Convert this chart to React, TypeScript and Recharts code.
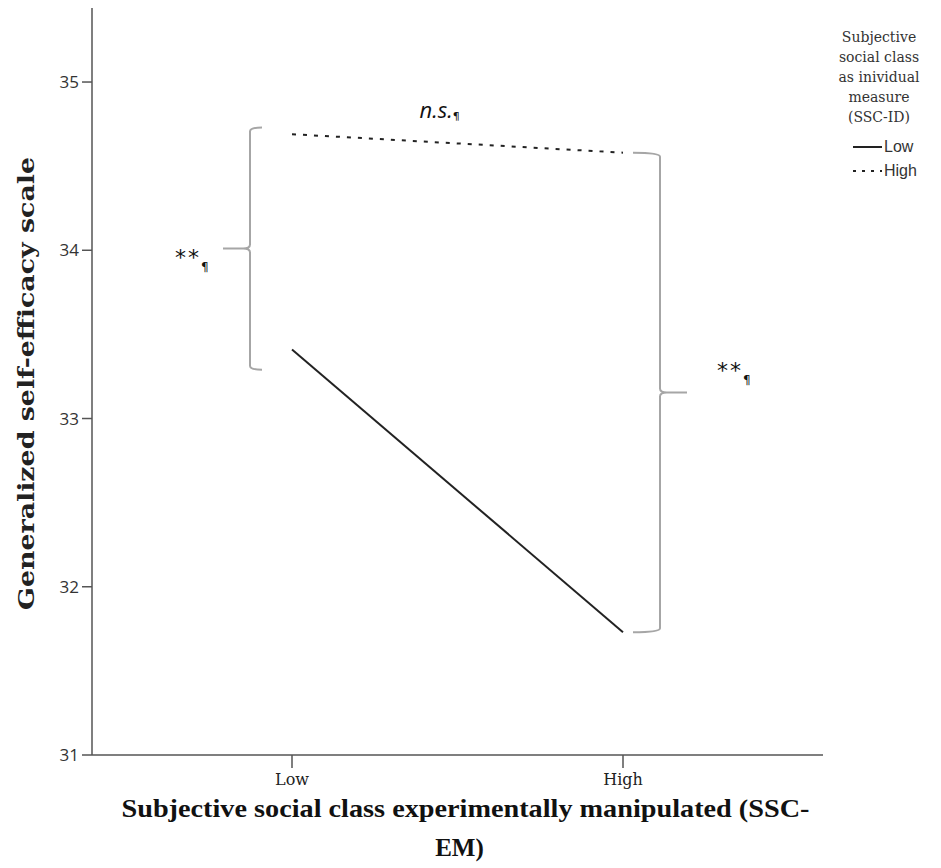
import React from "react";
import {
  LineChart,
  Line,
  XAxis,
  YAxis,
  Legend,
  Customized,
} from "recharts";

// SSC-EM condition on the x axis
const CATEGORIES = ["Low", "High"];
// SSC-ID groups
const LOW_ID = [33.41, 31.73];
const HIGH_ID = [34.69, 34.58];
const Y_TICKS = [31, 32, 33, 34, 35];
const Y_DOMAIN: [number, number] = [31, 35.44];

// brace spans (value units)
const BRACES = [
  { cat: "Low", top: 34.73, bottom: 33.29, dx: -42, arm: 12, tag: "**" },
  { cat: "High", top: 34.58, bottom: 31.73, dx: 37, arm: 27, tag: "**" },
];

const W = 941;
const H = 868;
const MARGIN = { top: 8, right: 118, bottom: 0, left: 0 };
const Y_AXIS_W = 92;
const X_AXIS_H = 113;
const PAD = 200;

const data = CATEGORIES.map((c, i) => ({
  cat: c,
  low: LOW_ID[i],
  high: HIGH_ID[i],
}));

const SERIF = "'DejaVu Serif', 'Liberation Serif', serif";
const SANS = "'Liberation Sans', Arial, sans-serif";

// plot geometry, same numbers the chart uses
const plotLeft = MARGIN.left + Y_AXIS_W;
const plotRight = W - MARGIN.right;
const plotTop = MARGIN.top;
const plotBottom = H - MARGIN.bottom - X_AXIS_H;
const yPx = (v: number) =>
  plotBottom - ((v - Y_DOMAIN[0]) / (Y_DOMAIN[1] - Y_DOMAIN[0])) * (plotBottom - plotTop);
const xPx = (cat: string) => {
  const step = (plotRight - plotLeft - 2 * PAD) / (CATEGORIES.length - 1);
  return plotLeft + PAD + CATEGORIES.indexOf(cat) * step;
};

function Brace({ x, y1, y2, dir, armLen }: { x: number; y1: number; y2: number; dir: number; armLen: number }) {
  // dir = -1 points left, dir = 1 points right
  const arm = armLen * -dir;
  const mid = (y1 + y2) / 2;
  const tip = 27 * dir;
  const r = 4;
  const d = [
    `M ${x + arm} ${y1}`,
    `Q ${x} ${y1} ${x} ${y1 + r}`,
    `L ${x} ${mid - r}`,
    `Q ${x} ${mid} ${x + tip * 0.25} ${mid}`,
    `L ${x + tip} ${mid}`,
    `M ${x + tip * 0.25} ${mid}`,
    `Q ${x} ${mid} ${x} ${mid + r}`,
    `L ${x} ${y2 - r}`,
    `Q ${x} ${y2} ${x + arm} ${y2}`,
  ].join(" ");
  return <path d={d} fill="none" stroke="#a6a6a6" strokeWidth={2} />;
}

function Tag({ x, y, text }: { x: number; y: number; text: string }) {
  return (
    <text x={x} y={y} fontFamily="'DejaVu Sans', sans-serif" fontSize={22} fill="#111" letterSpacing={2}>
      {text}
      <tspan fontSize={12} dy={6} fill="#111" fontFamily="'DejaVu Sans', sans-serif">
        ¶
      </tspan>
    </text>
  );
}

function Annotations() {
  const left = BRACES[0];
  const right = BRACES[1];
  const lx = xPx(left.cat) + left.dx;
  const rx = xPx(right.cat) + right.dx;
  const lMid = (yPx(left.top) + yPx(left.bottom)) / 2;
  const rMid = (yPx(right.top) + yPx(right.bottom)) / 2;
  return (
    <g>
      <Brace x={lx} y1={yPx(left.top)} y2={yPx(left.bottom)} dir={-1} armLen={left.arm} />
      <Brace x={rx} y1={yPx(right.top)} y2={yPx(right.bottom)} dir={1} armLen={right.arm} />
      <Tag x={lx - 75} y={lMid + 16} text={left.tag} />
      <Tag x={rx + 57} y={rMid - 14} text={right.tag} />
      <text
        x={(xPx("Low") + xPx("High")) / 2 - 38}
        y={yPx(35) + 36}
        fontFamily="'Open Sans', sans-serif"
        fontStyle="italic"
        fontSize={22}
        fill="#111"
      >
        n.s.
        <tspan fontSize={11} fontStyle="normal" dy={2} fontFamily="'DejaVu Sans', sans-serif">
          ¶
        </tspan>
      </text>
    </g>
  );
}

function LegendBox() {
  const title = ["Subjective", "social class", "as inividual", "measure", "(SSC-ID)"];
  return (
    <div style={{ width: 120, textAlign: "center", color: "#333" }}>
      {title.map((t) => (
        <div key={t} style={{ fontFamily: SERIF, fontSize: 14, lineHeight: "20px" }}>
          {t}
        </div>
      ))}
      <div style={{ marginTop: 8, textAlign: "left", paddingLeft: 34 }}>
        {[
          { label: "Low", dash: undefined },
          { label: "High", dash: "3 6" },
        ].map((s) => (
          <div key={s.label} style={{ display: "flex", alignItems: "center", height: 24 }}>
            <svg width={29} height={10}>
              <line x1={0} y1={5} x2={29} y2={5} stroke="#222" strokeWidth={2} strokeDasharray={s.dash} />
            </svg>
            <span style={{ fontFamily: SANS, fontSize: 16, marginLeft: 2 }}>{s.label}</span>
          </div>
        ))}
      </div>
    </div>
  );
}

export default function App() {
  return (
    <div style={{ position: "absolute", left: 0, top: 0, background: "#fff" }}>
      <LineChart width={W} height={H} data={data} margin={MARGIN}>
        <XAxis
          dataKey="cat"
          padding={{ left: PAD, right: PAD }}
          height={X_AXIS_H}
          stroke="#555"
          strokeWidth={1.5}
          tickSize={13}
          tickMargin={6}
          tick={{ fontFamily: SERIF, fontSize: 16, fill: "#222" }}
          label={{
            content: ({ viewBox }: any) => {
              const cx = viewBox.x + viewBox.width / 2 + 8;
              return (
                <text
                  textAnchor="middle"
                  fontFamily="'Liberation Serif', serif"
                  fontWeight="bold"
                  fontSize={25}
                  fill="#111"
                >
                  <tspan x={cx} y={viewBox.y + 62} textLength={688} lengthAdjust="spacingAndGlyphs">
                    Subjective social class experimentally manipulated (SSC-
                  </tspan>
                  <tspan x={cx - 6} y={viewBox.y + 101}>
                    EM)
                  </tspan>
                </text>
              );
            },
          }}
        />
        <YAxis
          type="number"
          domain={Y_DOMAIN}
          ticks={Y_TICKS}
          width={Y_AXIS_W}
          stroke="#555"
          strokeWidth={1.5}
          tickSize={10}
          tickMargin={3}
          allowDataOverflow
          tick={{ fontFamily: "'Open Sans', sans-serif", fontSize: 17, fill: "#333" }}
          label={{
            content: ({ viewBox }: any) => {
              const cx = 26;
              const cy = viewBox.y + viewBox.height / 2 + 2;
              return (
                <text
                  x={cx}
                  y={cy}
                  transform={`rotate(-90 ${cx} ${cy})`}
                  textAnchor="middle"
                  dominantBaseline="central"
                  fontFamily={SERIF}
                  fontWeight="bold"
                  fontSize={22}
                  fill="#222"
                  textLength={453}
                  lengthAdjust="spacingAndGlyphs"
                >
                  Generalized self-efficacy scale
                </text>
              );
            },
          }}
        />
        <Legend
          layout="horizontal"
          verticalAlign="middle"
          align="center"
          content={() => <LegendBox />}
          wrapperStyle={{ top: 27, left: 819, width: 120 }}
        />
        <Line
          dataKey="low"
          name="Low"
          stroke="#222"
          strokeWidth={2}
          dot={false}
          isAnimationActive={false}
        />
        <Line
          dataKey="high"
          name="High"
          stroke="#222"
          strokeWidth={2}
          strokeDasharray="4 7"
          dot={false}
          isAnimationActive={false}
        />
        <Customized component={Annotations} />
      </LineChart>
    </div>
  );
}
